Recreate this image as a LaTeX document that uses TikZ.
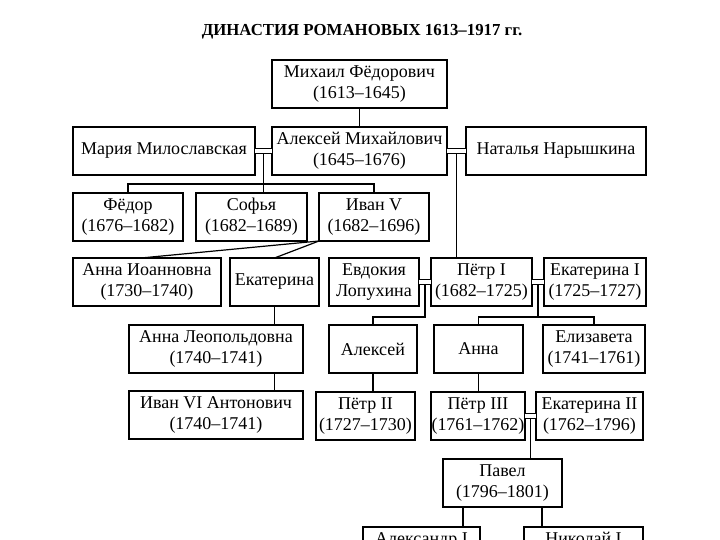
\documentclass[tikz,border=0pt]{standalone}
\usepackage{fontspec}
\setmainfont{Liberation Serif}
\usepackage{tikz}
\usetikzlibrary{positioning,calc}

\begin{document}
\begin{tikzpicture}[
    x=0.5pt, y=-0.5pt,
    box/.style={draw, line width=0.9pt, minimum height=24pt, inner xsep=0pt, inner ysep=1pt, outer sep=0pt, align=center, anchor=north west, font=\fontsize{9}{10.5}\selectfont},
    link/.style={line width=0.6pt},
    marriage/.style={double, line width=0.5pt, double distance=2.4pt},
    title/.style={font=\bfseries\fontsize{8.4}{10}\selectfont},
]
    \useasboundingbox (0,0) rectangle (720,540);
    \fill[white] (0,0) rectangle (720,540);
    \clip (0,0) rectangle (720,540);

    \node[title] (head) at (362,32) {ДИНАСТИЯ РОМАНОВЫХ 1613–1917 гг.};

    % Mikhail and Alexei
    \node[box, minimum width=87.5pt] (mikhail) at (272,60) {Михаил Фёдорович\\(1613–1645)};
    \node[box, minimum width=87.5pt] (alexei) at (272,127) {Алексей Михайлович\\(1645–1676)};
    \node[box, minimum width=91pt] (maria) at (73,127) {Мария Милославская};
    \node[box, minimum width=90pt] (natalya) at (466,127) {Наталья Нарышкина};

    % children of Maria
    \node[box, minimum width=55pt] (fedor) at (73,193) {Фёдор\\(1676–1682)};
    \node[box, minimum width=55.5pt] (sofya) at (196,193) {Софья\\(1682–1689)};
    \node[box, minimum width=55pt] (ivanV) at (319,193) {Иван V\\(1682–1696)};

    % next row
    \node[box, minimum width=74pt] (annaI) at (73,258) {Анна Иоанновна\\(1730–1740)};
    \node[box, minimum width=44.5pt] (ekaterina) at (230,258) {Екатерина};
    \node[box, minimum width=45pt] (evdokia) at (329,258) {Евдокия\\Лопухина};
    \node[box, minimum width=50.5pt] (petrI) at (431,258) {Пётр I\\(1682–1725)};
    \node[box, minimum width=51pt] (ekaterinaI) at (544,258) {Екатерина I\\(1725–1727)};

    % grandchildren
    \node[box, minimum width=87pt] (annaL) at (129,325) {Анна Леопольдовна\\(1740–1741)};
    \node[box, minimum width=44pt] (alexeiP) at (329,325) {Алексей};
    \node[box, minimum width=44.5pt] (anna) at (434,325) {Анна};
    \node[box, minimum width=51pt] (elizaveta) at (543,325) {Елизавета\\(1741–1761)};

    \node[box, minimum width=87pt] (ivanVI) at (129,391) {Иван VI Антонович\\(1740–1741)};
    \node[box, minimum width=49.5pt] (petrII) at (316,392) {Пётр II\\(1727–1730)};
    \node[box, minimum width=47pt] (petrIII) at (431,392) {Пётр III\\(1761–1762)};
    \node[box, minimum width=53.5pt] (ekaterinaII) at (536,392) {Екатерина II\\(1762–1796)};

    % Pavel and sons
    \node[box, minimum width=59.5pt] (pavel) at (443,459) {Павел\\(1796–1801)};
    \node[box, minimum width=58.5pt] (alexandr) at (363,527) {Александр I\\(1801–1825)};
    \node[box, minimum width=59.5pt] (nikolai) at (524,527) {Николай I\\(1825–1855)};

    % marriages and lines
    \draw[marriage] (maria) -- (alexei);
    \draw[marriage] (alexei) -- (natalya);
    \draw[marriage] (evdokia) -- (petrI);
    \draw[marriage] (petrI) -- (ekaterinaI);
    \draw[marriage] (petrIII) -- (ekaterinaII);
    \coordinate (m1) at ($(maria.east)!0.5!(alexei.west)+(0,3)$);
    \coordinate (m2) at ($(alexei.east)!0.5!(natalya.west)+(0,3)$);
    \coordinate (m3) at ($(evdokia.east)!0.5!(petrI.west)+(0,3)$);
    \coordinate (m4) at ($(petrI.east)!0.5!(ekaterinaI.west)+(0,3)$);
    \coordinate (m5) at ($(petrIII.east)!0.5!(ekaterinaII.west)+(0,3)$);

    \draw[link] (mikhail) -- (alexei);
    \draw[link] (m1) -- (m1 |- sofya.north);
    \draw[link] (fedor.north) -- ++(0,-9) -| (ivanV.north);
    \draw[link] (ivanV.south west) -- ([xshift=-3pt]annaI.north);
    \draw[link] (ivanV.south west) -- (ekaterina.north);
    \draw[link] (m2) -- (m2 |- petrI.north);
    \draw[link] (ekaterina) -- (ekaterina |- annaL.north);
    \draw[link] (ekaterina |- annaL.south) -- (ekaterina |- ivanVI.north);
    \draw[link] (m3) -- ++(0,32) -| (alexeiP.north);
    \draw[link] (m4) -- ++(0,32) coordinate (b4);
    \draw[link] (anna.north) |- (b4) -| (elizaveta.north);
    \draw[link] (alexeiP) -- (alexeiP |- petrII.north);
    \draw[link] (anna) -- (anna |- petrIII.north);
    \draw[link] (m5) -- (m5 |- pavel.north);
    \coordinate (p1) at ([xshift=-19.75pt]pavel.south);
    \coordinate (p2) at ([xshift=19.75pt]pavel.south);
    \draw[link] (p1) -- (p1 |- alexandr.north);
    \draw[link] (p2) -- (p2 |- nikolai.north);
\end{tikzpicture}
\end{document}
